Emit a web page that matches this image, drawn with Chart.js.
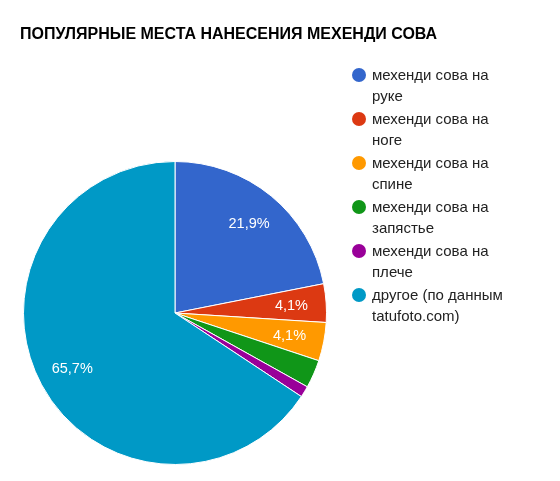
<!DOCTYPE html>
<html>
<head>
<meta charset="utf-8">
<script src="https://cdn.jsdelivr.net/npm/chart.js@4/dist/chart.umd.min.js"></script>
<style>
  body { margin: 0; background: #fff; }
  #wrap { position: relative; width: 560px; height: 481px; }
  #title { position: absolute; left: 20px; top: 25px; font: bold 16px "Liberation Sans", Arial, sans-serif; color: #000; white-space: nowrap; }
  #legend { position: absolute; left: 352px; top: 64px; font: 15px "Liberation Sans", Arial, sans-serif; color: #222; }
  .item { position: relative; padding-left: 20px; line-height: 21px; height: 44px; }
  .dot { position: absolute; left: 0; top: 4px; width: 14px; height: 14px; border-radius: 50%; }
</style>
</head>
<body>
<div id="wrap">
  <canvas id="pie" width="560" height="481"></canvas>
  <div id="title">ПОПУЛЯРНЫЕ МЕСТА НАНЕСЕНИЯ МЕХЕНДИ СОВА</div>
  <div id="legend"></div>
</div>
<script>
const categories = [
    ['мехенди сова на', 'руке'],
    ['мехенди сова на', 'ноге'],
    ['мехенди сова на', 'спине'],
    ['мехенди сова на', 'запястье'],
    ['мехенди сова на', 'плече'],
    ['другое (по данным', 'tatufoto.com)']
];
const shares = [21.9, 4.1, 4.1, 3.0, 1.2, 65.7];
const colours = ['#3366cc', '#dc3912', '#ff9900', '#109618', '#990099', '#0099c6'];

// legend, two lines per entry like the original
const legend = document.getElementById('legend');
categories.forEach(function(lines, i) {
    const div = document.createElement('div');
    div.className = 'item';
    div.innerHTML = '<span class="dot" style="background:' + colours[i] + '"></span>' + lines.join('<br>');
    legend.appendChild(div);
});

// white percentage text inside the bigger slices
const sliceText = {
    id: 'sliceText',
    afterDatasetsDraw(chart) {
        const ctx = chart.ctx;
        const meta = chart.getDatasetMeta(0);
        ctx.save();
        ctx.fillStyle = '#fff';
        ctx.font = '14.5px "Liberation Sans", Arial, sans-serif';
        ctx.textAlign = 'center';
        ctx.textBaseline = 'middle';
        meta.data.forEach(function(arc, i) {
            if (shares[i] < 4) return;
            const mid = (arc.startAngle + arc.endAngle) / 2;
            const r = arc.outerRadius * 0.77;
            const x = arc.x + Math.cos(mid) * r;
            const y = arc.y + Math.sin(mid) * r + 1;
            ctx.fillText(shares[i].toFixed(1).replace('.', ',') + '%', x, y);
        });
        ctx.restore();
    }
};

new Chart(document.getElementById('pie').getContext('2d'), {
    type: 'pie',
    data: {
        labels: categories.map(l => l.join(' ')),
        datasets: [{
            data: shares,
            backgroundColor: colours,
            borderColor: '#fff',
            borderWidth: 1
        }]
    },
    options: {
        responsive: false,
        animation: false,
        layout: { padding: { left: 23, right: 233, top: 161, bottom: 16 } },
        plugins: {
            legend: { display: false },
            tooltip: { enabled: false }
        }
    },
    plugins: [sliceText]
});
</script>
</body>
</html>
